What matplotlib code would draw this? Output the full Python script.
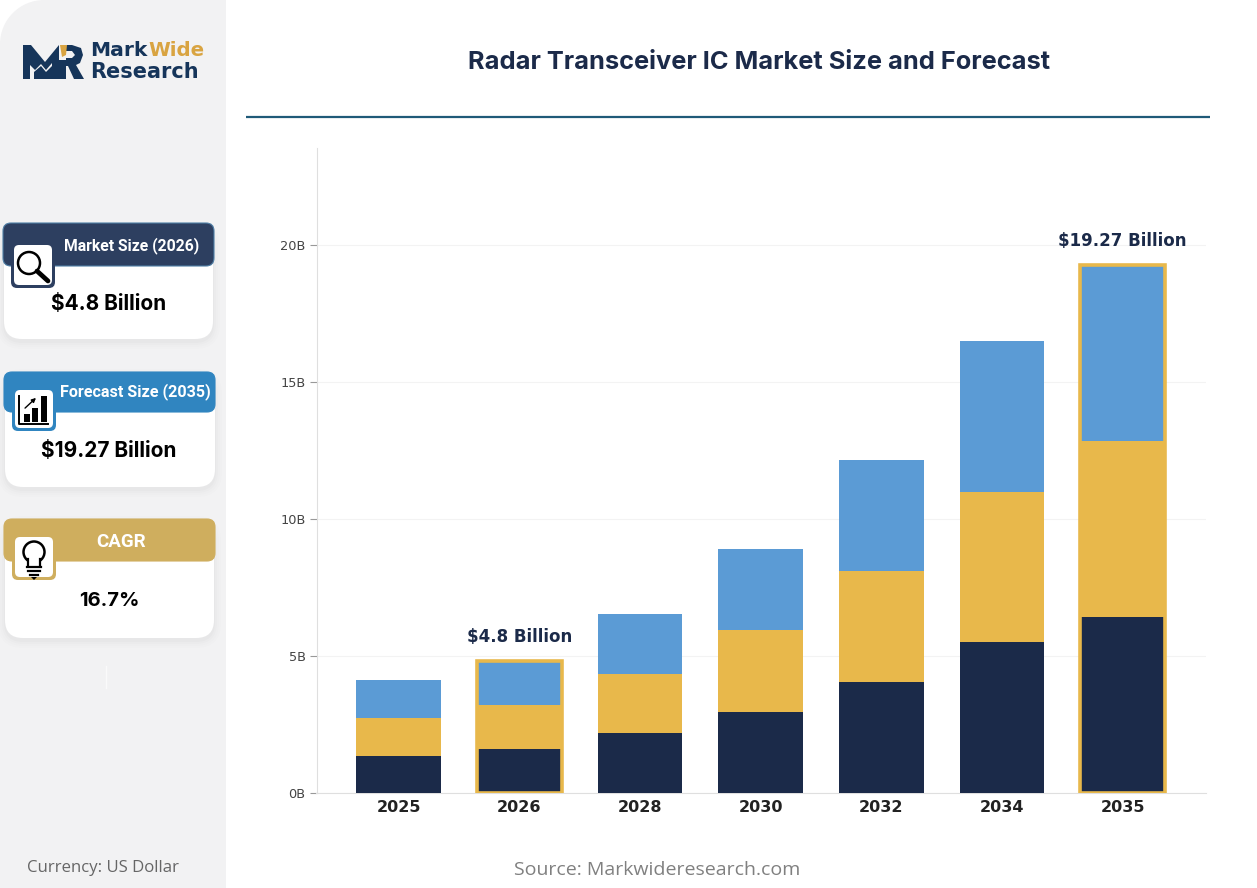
import matplotlib
matplotlib.use("Agg")
import matplotlib.pyplot as plt
from matplotlib.patches import FancyBboxPatch, Rectangle, Circle, Polygon, PathPatch
from matplotlib.path import Path
import numpy as np

# ---- data ----
years = ["2025", "2026", "2028", "2030", "2032", "2034", "2035"]
seg_navy = [1.36, 1.60, 2.19, 2.96, 4.05, 5.50, 6.42]
seg_gold = [1.38, 1.60, 2.15, 2.99, 4.05, 5.50, 6.43]
seg_blue = [1.38, 1.60, 2.19, 2.95, 4.05, 5.50, 6.42]
highlight = {"2026": "$4.8 Billion", "2035": "$19.27 Billion"}
y_ticks = [0, 5, 10, 15, 20]
y_labels = ["0B", "5B", "10B", "15B", "20B"]
cards = [
    ("Market Size (2026)", "$4.8 Billion"),
    ("Forecast Size (2035)", "$19.27 Billion"),
    ("CAGR", "16.7%"),
]

NAVY, GOLD, BLUE = "#1b2a49", "#e8b84b", "#5b9bd5"

W, H = 1257, 888
fig = plt.figure(figsize=(W / 100, H / 100), dpi=100, facecolor="white")

# ---- pixel overlay for panel and furniture ----
bg = fig.add_axes([0, 0, 1, 1], zorder=0)
bg.set_xlim(0, W); bg.set_ylim(H, 0); bg.axis("off")


def rbox(x0, y0, x1, y1, r, fc, ec="none", lw=0, z=2, alpha=None):
    p = FancyBboxPatch((x0 + r, y0 + r), x1 - x0 - 2 * r, y1 - y0 - 2 * r,
                       boxstyle=f"round,pad={r},rounding_size={r}",
                       fc=fc, ec=ec, lw=lw, zorder=z, alpha=alpha)
    bg.add_patch(p)
    return p


# side panel, rounded only at top-left
r = 44
k = 0.55 * r
panel = Path([(0, H), (0, r), (0, r - k), (r - k, 0), (r, 0), (226, 0), (226, H), (0, H)],
             [Path.MOVETO, Path.LINETO, Path.CURVE4, Path.CURVE4, Path.CURVE4,
              Path.LINETO, Path.LINETO, Path.CLOSEPOLY])
bg.add_patch(PathPatch(panel, fc="#f2f2f3", ec="none", zorder=1))

# cards: body box, header box, icon box, colours
layout = [
    dict(body=(4, 226, 213, 339), head=(3, 223, 214, 266), icon=(11, 245, 55, 288),
         col="#2d3f60", edge="#4f7fa6", tx=132, ty=246, vy=304, hs=11.3, vs=15),
    dict(body=(5, 373, 215, 487), head=(4, 372, 215, 412), icon=(12, 390, 56, 431),
         col="#3085c0", edge="#3085c0", tx=135.5, ty=392, vy=451, hs=11.6, vs=15),
    dict(body=(5, 520, 214, 638), head=(4, 519, 215, 561), icon=(12, 537, 56, 580),
         col="#cfae5e", edge="#cfae5e", tx=121.5, ty=541.5, vy=601, hs=13.5, vs=14.5),
]
for (title, value), c in zip(cards, layout):
    x0, y0, x1, y1 = c["body"]
    for i, a in zip((7, 5, 3, 1), (0.006, 0.008, 0.01, 0.014)):
        rbox(x0 - i, y0 - i + 3, x1 + i, y1 + i + 3, 18 + i, "black", z=2, alpha=a)
    rbox(x0, y0, x1, y1, 18, "white", z=3)
    hx0, hy0, hx1, hy1 = c["head"]
    rbox(hx0, hy0, hx1, hy1, 8, c["col"], ec=c["edge"], lw=0.8, z=4)
    ix0, iy0, ix1, iy1 = c["icon"]
    rbox(ix0, iy0, ix1, iy1, 6, c["col"], z=5)
    rbox(ix0 + 3, iy0 - 0, ix1 - 3, iy1 - 3, 5, "white", z=6)
    bg.text(c["tx"], c["ty"], title, color="white", fontsize=c["hs"], fontweight="bold",
            family="Roboto", ha="center", va="center", zorder=7)
    bg.text(109, c["vy"], value, color="black", fontsize=c["vs"], fontweight="bold",
            family="Inter", ha="center", va="center", zorder=7)

# magnifier icon
bg.add_patch(Circle((29, 263), 11, fc="none", ec="black", lw=1.8, zorder=8))
bg.plot([37, 48], [271, 281], color="black", lw=3.4, solid_capstyle="round", zorder=8)

# chart icon
bg.plot([19, 19, 48], [396, 424, 424], color="black", lw=1.4, zorder=8)
for bx, bt in ((24, 414), (32, 408), (41, 396)):
    bg.add_patch(Rectangle((bx, bt), 6, 422 - bt, fc="black", ec="none", zorder=8))
bg.annotate("", xy=(38, 396), xytext=(23, 410), zorder=8,
            arrowprops=dict(arrowstyle="-|>", color="black", lw=1, mutation_scale=6))

# bulb icon
bg.add_patch(Circle((34, 552), 10.5, fc="none", ec="black", lw=1.8, zorder=8))
bg.add_patch(Rectangle((28, 558), 12, 9, fc="white", ec="none", zorder=8))
bg.plot([28, 28], [559, 566], color="black", lw=1.6, zorder=9)
bg.plot([40, 40], [559, 566], color="black", lw=1.6, zorder=9)
for ly, hw in ((567, 7), (571, 6), (575, 4)):
    bg.plot([34 - hw, 34 + hw], [ly, ly], color="black", lw=1.6, zorder=9)
bg.add_patch(Polygon([(31, 577), (37, 577), (34, 580)], fc="black", ec="none", zorder=9))

# logo mark
LOGO = "#16355a"
bg.add_patch(Polygon([(23, 79), (23, 45), (31, 45), (45, 62), (59, 45), (59, 79), (52, 79), (52, 63),
                      (46, 70), (41, 64), (35, 70), (30, 65), (30, 79)], fc=LOGO, ec="none", zorder=3))
bg.add_patch(Polygon([(34, 79), (34, 72), (41, 66), (46, 72), (52, 66), (52, 79)], fc=LOGO, ec="none", zorder=3))
bg.add_patch(Polygon([(61, 45), (72, 45), (81, 48), (83, 55), (80, 63), (76, 65), (84, 79), (74, 79),
                      (68, 66), (66, 66), (66, 79), (59, 79), (59, 60), (66, 60), (66, 58), (72, 58), (75, 55),
                      (72, 51), (66, 51)], fc=LOGO, ec="none", zorder=3))
bg.add_patch(Polygon([(60, 45), (67, 45), (66, 55), (62, 57)], fc="#d9a441", ec="none", zorder=4))
bg.text(90, 51, "Mark", color=LOGO, fontsize=14.6, fontweight="bold", family="DejaVu Sans", ha="left", va="center", zorder=3)
bg.text(148, 51, "Wide", color="#d9a441", fontsize=14.2, fontweight="bold", family="DejaVu Sans", ha="left", va="center", zorder=3)
bg.text(90, 71.5, "Research", color=LOGO, fontsize=15, fontweight="bold", family="DejaVu Sans", ha="left", va="center", zorder=3)

# faint artefact line
bg.plot([106, 106], [666, 688], color="#fafafa", lw=1, zorder=2)

# title + rule + footers
bg.text(759, 62.5, "Radar Transceiver IC Market Size and Forecast", color=NAVY, fontsize=18.3,
        fontweight="bold", family="Inter", ha="center", va="center")
bg.plot([246, 1210], [117, 117], color="#1f5a78", lw=1.6, solid_capstyle="butt")
bg.text(27, 868, "Currency: US Dollar", color="#666666", fontsize=12.1, family="Open Sans", ha="left", va="center")
bg.text(514, 870, "Source: Markwideresearch.com", color="#808080", fontsize=14, family="Open Sans", ha="left", va="center")

# ---- chart ----
ax = fig.add_axes([316.5 / W, 1 - 793 / H, (1206 - 316.5) / W, (793 - 148) / H], zorder=2)
ax.patch.set_alpha(0)
x = np.arange(len(years))
navy = np.array(seg_navy); gold = np.array(seg_gold); blue = np.array(seg_blue)
ax.bar(x, navy, 0.7, color=NAVY, zorder=3)
ax.bar(x, gold, 0.7, bottom=navy, color=GOLD, zorder=3)
ax.bar(x, blue, 0.7, bottom=navy + gold, color=BLUE, zorder=3)
total = navy + gold + blue
for i, y in enumerate(years):
    if y in highlight:
        ax.bar(i, total[i], 0.7, color="none", ec=GOLD, lw=2.6, zorder=4)
        ax.text(i, total[i] + 0.56, highlight[y], color=NAVY, fontsize=12, fontweight="bold",
                family="DejaVu Sans", ha="center", va="bottom", zorder=5)
ax.set_xlim(-0.68, 6.69)
ax.set_ylim(0, 23.54)
ax.set_yticks(y_ticks, y_labels)
ax.set_xticks(x, years)
ax.tick_params(axis="y", labelsize=9.3, labelcolor="#444444", color="#999999", length=5, width=0.8, pad=3)
ax.tick_params(axis="x", length=0, pad=5)
for lb in ax.get_xticklabels():
    lb.set_fontsize(11.5); lb.set_fontweight("bold"); lb.set_color("#222222")
ax.grid(axis="y", color="#f3f3f3", lw=0.8, zorder=0)
ax.set_axisbelow(True)
for s in ("top", "right"):
    ax.spines[s].set_visible(False)
for s in ("left", "bottom"):
    ax.spines[s].set_color("#dfdfdf"); ax.spines[s].set_linewidth(0.8)

fig.savefig("out.png", dpi=100)
